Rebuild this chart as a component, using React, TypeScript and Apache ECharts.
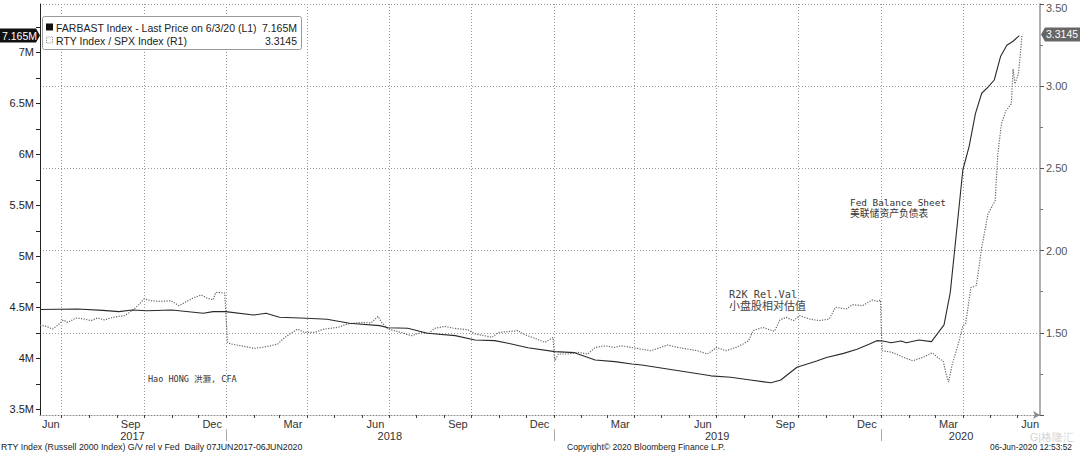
import React, { useEffect, useRef } from 'react';
import * as echarts from 'echarts';

// ---- Data ----
const fedDates = [
  '2017-06-07', '2017-07-19', '2017-08-16', '2017-09-03', '2017-09-18', '2017-10-04', '2017-11-01',
  '2017-12-06', '2017-12-17', '2017-12-31', '2018-01-31', '2018-02-14', '2018-03-01', '2018-03-31',
  '2018-04-23', '2018-05-18', '2018-06-21', '2018-06-30', '2018-07-22', '2018-08-13', '2018-09-13',
  '2018-10-05', '2018-10-27', '2018-11-11', '2018-12-03', '2019-01-02', '2019-01-24', '2019-02-16',
  '2019-03-10', '2019-03-29', '2019-04-09', '2019-05-22', '2019-06-25', '2019-07-17', '2019-08-08',
  '2019-08-31', '2019-09-11', '2019-09-18', '2019-09-29', '2019-10-21', '2019-11-01', '2019-11-20',
  '2019-12-05', '2019-12-19', '2019-12-27', '2020-01-03', '2020-01-12', '2020-01-23', '2020-01-29',
  '2020-02-12', '2020-02-26', '2020-03-11', '2020-03-18', '2020-03-25', '2020-04-01', '2020-04-08',
  '2020-04-15', '2020-04-22', '2020-04-29', '2020-05-06', '2020-05-13', '2020-05-20', '2020-05-27',
  '2020-06-03',
];
const fedValues = [
  4.48, 4.485, 4.472, 4.459, 4.475, 4.468, 4.475,
  4.443, 4.459, 4.459, 4.426, 4.443, 4.404, 4.394,
  4.384, 4.345, 4.322, 4.302, 4.296, 4.247, 4.224,
  4.181, 4.175, 4.149, 4.106, 4.067, 4.057, 3.985,
  3.969, 3.946, 3.936, 3.877, 3.83, 3.816, 3.789,
  3.762, 3.789, 3.838, 3.914, 3.975, 4.01, 4.05,
  4.09, 4.142, 4.175, 4.172, 4.155, 4.172, 4.155,
  4.181, 4.165, 4.33, 4.65, 5.25, 5.85, 6.08,
  6.4, 6.6, 6.66, 6.73, 6.96, 7.07, 7.11,
  7.165,
];

const ratioDates = [
  '2017-06-07', '2017-06-14', '2017-06-21', '2017-06-27', '2017-07-03', '2017-07-08', '2017-07-17',
  '2017-07-26', '2017-08-03', '2017-08-10', '2017-08-18', '2017-08-25', '2017-09-02', '2017-09-09',
  '2017-09-15', '2017-09-20', '2017-09-26', '2017-10-01', '2017-10-09', '2017-10-20', '2017-10-31',
  '2017-11-09', '2017-11-19', '2017-11-26', '2017-12-04', '2017-12-11', '2017-12-17', '2017-12-20',
  '2017-12-30', '2018-01-02', '2018-01-06', '2018-01-21', '2018-02-01', '2018-02-16', '2018-02-27',
  '2018-03-07', '2018-03-21', '2018-03-29', '2018-04-09', '2018-04-20', '2018-05-05', '2018-05-16',
  '2018-05-31', '2018-06-11', '2018-06-19', '2018-06-23', '2018-06-30', '2018-07-15', '2018-07-26',
  '2018-08-06', '2018-08-14', '2018-08-21', '2018-09-01', '2018-09-12', '2018-09-27', '2018-10-05',
  '2018-10-16', '2018-10-24', '2018-10-31', '2018-11-11', '2018-11-22', '2018-11-30', '2018-12-11',
  '2018-12-22', '2018-12-27', '2018-12-31', '2019-01-02', '2019-01-06', '2019-01-17', '2019-01-28',
  '2019-02-08', '2019-02-16', '2019-02-27', '2019-03-10', '2019-03-17', '2019-03-28', '2019-04-08',
  '2019-04-19', '2019-04-30', '2019-05-08', '2019-05-19', '2019-05-30', '2019-06-10', '2019-06-21',
  '2019-06-29', '2019-07-01', '2019-07-12', '2019-07-23', '2019-07-31', '2019-08-06', '2019-08-11',
  '2019-08-22', '2019-09-01', '2019-09-04', '2019-09-10', '2019-09-17', '2019-09-25', '2019-10-02',
  '2019-10-13', '2019-10-24', '2019-11-04', '2019-11-11', '2019-11-23', '2019-11-30', '2019-12-11',
  '2019-12-22', '2019-12-28', '2019-12-31', '2020-01-02', '2020-01-13', '2020-01-24', '2020-02-05',
  '2020-02-16', '2020-02-27', '2020-03-05', '2020-03-10', '2020-03-13', '2020-03-16', '2020-03-20',
  '2020-03-28', '2020-04-01', '2020-04-04', '2020-04-10', '2020-04-16', '2020-04-22', '2020-04-29',
  '2020-05-07', '2020-05-10', '2020-05-14', '2020-05-19', '2020-05-25', '2020-05-27', '2020-05-29',
  '2020-06-02', '2020-06-06',
];
const ratioValues = [
  1.547, 1.539, 1.523, 1.547, 1.578, 1.563, 1.59,
  1.584, 1.574, 1.59, 1.578, 1.59, 1.6, 1.604,
  1.624, 1.645, 1.675, 1.706, 1.695, 1.691, 1.695,
  1.665, 1.695, 1.715, 1.73, 1.709, 1.701, 1.746,
  1.742, 1.442, 1.432, 1.417, 1.405, 1.417, 1.432,
  1.472, 1.523, 1.502, 1.502, 1.523, 1.533, 1.554,
  1.563, 1.56, 1.6, 1.563, 1.523, 1.502, 1.482,
  1.502, 1.495, 1.527, 1.539, 1.527, 1.519, 1.493,
  1.482, 1.472, 1.502, 1.507, 1.513, 1.487, 1.466,
  1.442, 1.458, 1.472, 1.33, 1.371, 1.371, 1.381,
  1.371, 1.411, 1.421, 1.411, 1.421, 1.411, 1.401,
  1.391, 1.411, 1.426, 1.411, 1.401, 1.391, 1.371,
  1.401, 1.411, 1.391, 1.411, 1.432, 1.452, 1.513,
  1.533, 1.513, 1.51, 1.578, 1.594, 1.574, 1.604,
  1.584, 1.574, 1.584, 1.655, 1.645, 1.671, 1.665,
  1.7, 1.691, 1.7, 1.391, 1.381, 1.355, 1.33,
  1.35, 1.378, 1.345, 1.33, 1.255, 1.2, 1.305,
  1.455, 1.543, 1.554, 1.776, 1.786, 2.019, 2.223,
  2.304, 2.588, 2.771, 2.851, 2.892, 3.105, 3.014,
  3.075, 3.3145,
];

const leftLabelValues = [3.5, 4, 4.5, 5, 5.5, 6, 6.5, 7];
const leftTickValues = [3.5, 3.75, 4, 4.25, 4.5, 4.75, 5, 5.25, 5.5, 5.75, 6, 6.25, 6.5, 6.75, 7, 7.25];
const rightMax = 3.5;
const monthLabelDates = [
  '2017-06-19', '2017-09-16', '2017-12-16', '2018-03-16', '2018-06-16', '2018-09-16', '2018-12-16',
  '2019-03-16', '2019-06-16', '2019-09-16', '2019-12-16', '2020-03-16', '2020-06-15',
];
const monthLabelTexts = ['Jun', 'Sep', 'Dec', 'Mar', 'Jun', 'Sep', 'Dec', 'Mar', 'Jun', 'Sep', 'Dec', 'Mar', 'Jun'];
const yearLabelDates = ['2017-09-18', '2018-07-02', '2019-07-02', '2020-03-30'];
const yearLabelTexts = ['2017', '2018', '2019', '2020'];
const xStart = '2017-06-07';
const xEnd = '2020-06-26';

const legendLine1 = 'FARBAST Index - Last Price on 6/3/20 (L1)';
const legendValue1 = '7.165M';
const legendLine2 = 'RTY Index / SPX Index (R1)';
const legendValue2 = '3.3145';
const lastFed = 7.165;
const lastRatio = 3.3145;

const FONT = '"Liberation Sans", Arial, sans-serif';
const MONO = '"DejaVu Sans Mono", "Noto Sans CJK SC", monospace';

const ts = (s: string) => {
  const [y, m, d] = s.split('-').map(Number);
  return Date.UTC(y, m - 1, d);
};

export default function App() {
  const ref = useRef<HTMLDivElement>(null);
  useEffect(() => {
    if (!ref.current) return;
    const chart = echarts.init(ref.current, undefined, { renderer: 'svg' });
    const xMin = ts(xStart);
    const xMax = ts(xEnd);
    const monthStarts: number[] = [];
    for (let i = 0; i < 36; i++) monthStarts.push(Date.UTC(2017, 6 + i, 1));
    const quarterStarts = monthStarts.filter((t) => new Date(t).getUTCMonth() % 3 === 0);
    const yearStarts = monthStarts.filter((t) => new Date(t).getUTCMonth() === 0);
    const monthMap: Record<number, string> = {};
    monthLabelDates.forEach((d, i) => (monthMap[ts(d)] = monthLabelTexts[i]));
    const yearMap: Record<number, string> = {};
    yearLabelDates.forEach((d, i) => (yearMap[ts(d)] = yearLabelTexts[i]));

    const gridLine = { color: '#9a9a9a', type: [1, 2] as any, width: 1 };

    chart.setOption({
      animation: false,
      backgroundColor: '#ffffff',
      grid: { left: 40, right: 40, top: 4, bottom: 38, containLabel: false, outerBoundsMode: 'none' } as any,
      xAxis: [
        {
          type: 'value', min: xMin, max: xMax, position: 'bottom',
          axisLine: { show: true, symbol: ['none', 'arrow'], symbolSize: [6, 7], lineStyle: { color: '#888', type: [1, 2], width: 1 } },
          axisTick: { show: true, customValues: monthStarts, length: 3, lineStyle: { color: '#444' } },
          axisLabel: {
            customValues: monthLabelDates.map(ts),
            formatter: (v: number) => monthMap[v] || '',
            color: '#333', fontSize: 11, fontFamily: FONT, margin: 3,
          },
          splitLine: { show: false },
        },
        {
          type: 'value', min: xMin, max: xMax, position: 'bottom',
          axisLine: { show: false },
          axisTick: { show: false, customValues: quarterStarts },
          axisLabel: { show: false },
          splitLine: { show: true, lineStyle: gridLine },
        },
        {
          type: 'value', min: xMin, max: xMax, position: 'bottom', offset: 14,
          axisLine: { show: false },
          axisTick: { show: true, customValues: yearStarts, length: 12, lineStyle: { color: '#aaa' } },
          axisLabel: {
            customValues: yearLabelDates.map(ts),
            formatter: (v: number) => yearMap[v] || '',
            color: '#333', fontSize: 11, fontFamily: FONT, margin: 1,
          },
          splitLine: { show: false },
        },
      ],
      yAxis: [
        {
          type: 'value', position: 'left', min: 3.446, max: 7.475,
          axisLine: { show: true, lineStyle: { color: '#222', width: 1 } },
          axisTick: { show: true, customValues: leftTickValues, length: 4, lineStyle: { color: '#222' } },
          axisLabel: {
            customValues: leftLabelValues,
            formatter: (v: number) => `${Math.round(v * 100) / 100}M`,
            color: '#222', fontSize: 11, fontFamily: FONT, margin: 6,
          },
          splitLine: { show: false },
        },
        {
          type: 'value', position: 'right', min: 1, max: rightMax, interval: 0.5,
          axisLine: { show: true, lineStyle: { color: '#b0b0b0', width: 2 } },
          axisTick: { show: true, length: 4, lineStyle: { color: '#555' } },
          minorTick: { show: true, splitNumber: 2, length: 3, lineStyle: { color: '#777' } },
          axisLabel: {
            formatter: (v: number) => v.toFixed(2), showMinLabel: false, showMaxLabel: false,
            color: '#555', fontSize: 11, fontFamily: FONT, margin: 6,
          },
          splitLine: { show: true, lineStyle: gridLine },
          minorSplitLine: { show: false },
        },
      ],
      series: [
        {
          name: 'FARBAST Index', type: 'line', xAxisIndex: 0, yAxisIndex: 0,
          data: fedDates.map((d, i) => [ts(d), fedValues[i]]),
          symbol: 'none', showSymbol: false, z: 4,
          lineStyle: { color: '#2a2a2a', width: 1.1 },
        },
        {
          name: 'RTY Index / SPX Index', type: 'line', xAxisIndex: 0, yAxisIndex: 1,
          data: ratioDates.map((d, i) => [ts(d), ratioValues[i]]),
          symbol: 'none', showSymbol: false, z: 3,
          lineStyle: { color: '#666', width: 1.2, type: [1.2, 1.4] },
        },
      ],
    });

    const yL = chart.convertToPixel({ yAxisIndex: 0 }, lastFed) as number;
    const yR = chart.convertToPixel({ yAxisIndex: 1 }, lastRatio) as number;
    const yTop = chart.convertToPixel({ yAxisIndex: 1 }, rightMax) as number;
    const txt = (x: number, y: number, text: string, size: number, family: string, fill: string, align = 'left') => ({
      type: 'text', x, y, silent: true, z: 100,
      style: { text, fontSize: size, fontFamily: family, fill, align, verticalAlign: 'middle' },
    });

    chart.setOption({
      graphic: [
        // top right-axis label, nudged inside the page
        txt(1046, yTop + 4, rightMax.toFixed(2), 11, FONT, '#555'),
        // legend box
        { type: 'rect', silent: true, z: 90, shape: { x: 42.5, y: 16.5, width: 259, height: 33, r: 2 }, style: { fill: '#fff', stroke: '#9a9a9a', lineWidth: 1 } },
        { type: 'rect', silent: true, z: 95, shape: { x: 46, y: 23.5, width: 7, height: 7 }, style: { fill: '#111' } },
        { type: 'rect', silent: true, z: 95, shape: { x: 46.5, y: 37, width: 6, height: 6 }, style: { fill: 'none', stroke: '#888', lineWidth: 1, lineDash: [1, 1] } },
        txt(56, 27.5, legendLine1, 10.5, FONT, '#222'),
        txt(297, 27.5, legendValue1, 10.5, FONT, '#222', 'right'),
        txt(56, 40.5, legendLine2, 10.5, FONT, '#222'),
        txt(297, 40.5, legendValue2, 10.5, FONT, '#222', 'right'),
        // left last-value tag
        { type: 'polygon', silent: true, z: 95, shape: { points: [[0, yL - 7], [36, yL - 7], [40, yL], [36, yL + 7], [0, yL + 7]] }, style: { fill: '#111' } },
        txt(2, yL, legendValue1, 10.5, FONT, '#fff'),
        // right last-value tag
        { type: 'polygon', silent: true, z: 95, shape: { points: [[1041, yR], [1045, yR - 7], [1080, yR - 7], [1080, yR + 7], [1045, yR + 7]] }, style: { fill: '#666' } },
        txt(1046, yR, legendValue2, 10.5, FONT, '#fff'),
        // annotations
        txt(148, 379, 'Hao HONG 洪灏, CFA', 8.5, MONO, '#333'),
        txt(729, 294, 'R2K Rel.Val', 10.3, MONO, '#444'),
        txt(729, 306, '小盘股相对估值', 11, MONO, '#444'),
        txt(850, 202, 'Fed Balance Sheet', 9.4, MONO, '#333'),
        txt(850, 213, '美联储资产负债表', 9.8, MONO, '#333'),
        // footer
        txt(1, 447, 'RTY Index (Russell 2000 Index) G/V rel v Fed  Daily 07JUN2017-06JUN2020', 8.8, FONT, '#222'),
        txt(567, 447, 'Copyright© 2020 Bloomberg Finance L.P.', 8.6, FONT, '#222'),
        txt(1072, 447, '06-Jun-2020 12:53:52', 8.4, FONT, '#222', 'right'),
        txt(1030, 437, 'G|格隆汇', 10.5, FONT, '#d4d4d4'),
      ],
    });

    return () => chart.dispose();
  }, []);

  return <div ref={ref} style={{ position: 'absolute', left: 0, top: 0, width: 1080, height: 453 }} />;
}
